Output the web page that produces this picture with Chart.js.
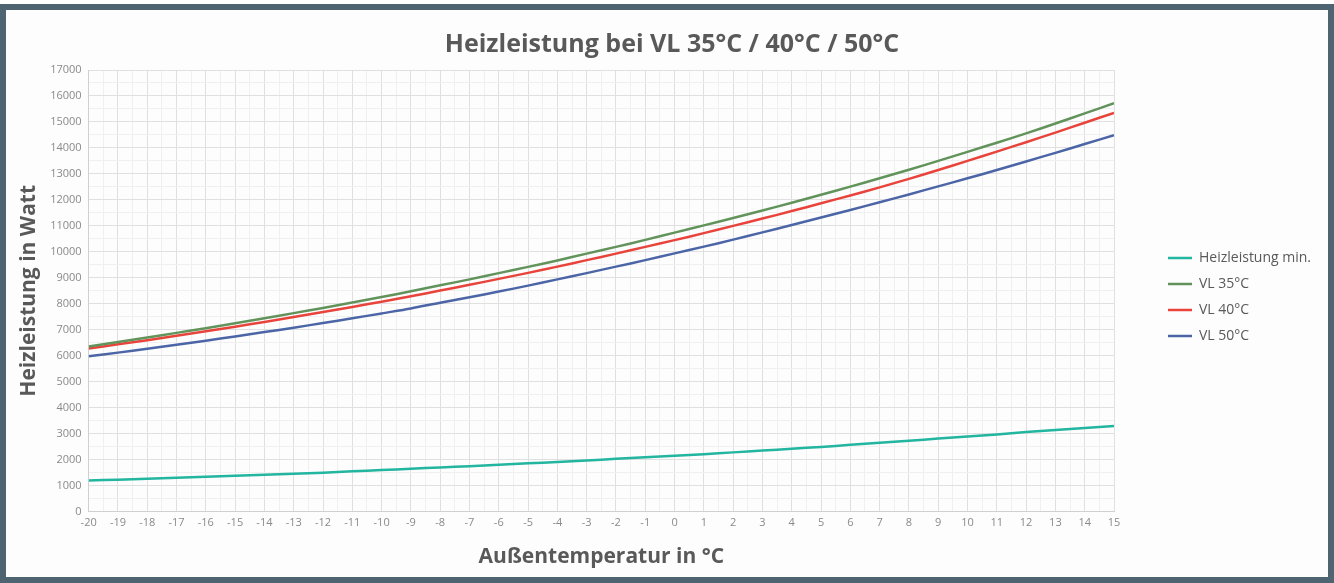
<!DOCTYPE html>
<html>
<head>
<meta charset="utf-8">
<script src="https://cdn.jsdelivr.net/npm/chart.js@4.4.1/dist/chart.umd.min.js"></script>
<style>
  html, body { margin: 0; padding: 0; background: #fff; }
  #frame {
    position: absolute; left: 0; top: 4px; width: 1334px; height: 579px;
    box-sizing: border-box; border: 6px solid #4e6471; background: #fdfdfd;
  }
  #wrap { position: absolute; left: 0; top: 0; width: 1322px; height: 567px; }
</style>
</head>
<body>
<div id="frame"><div id="wrap"><canvas id="chart-heiz"></canvas></div></div>
<script>
// Außentemperatur in °C
var temps = [-20,-19,-18,-17,-16,-15,-14,-13,-12,-11,-10,-9,-8,-7,-6,-5,-4,-3,-2,-1,0,1,2,3,4,5,6,7,8,9,10,11,12,13,14,15];

// Heizleistung in Watt
var heizMin = [1200,1230,1260,1300,1340,1380,1420,1460,1500,1550,1600,1650,1700,1750,1800,1860,1910,1970,2030,2090,2150,2210,2280,2350,2420,2490,2570,2650,2730,2810,2890,2970,3060,3140,3220,3300];
var vl35 = [6360,6530,6700,6880,7060,7250,7440,7640,7840,8050,8260,8480,8710,8940,9180,9420,9670,9930,10190,10460,10740,11020,11300,11590,11890,12200,12510,12830,13160,13500,13850,14200,14560,14940,15330,15720];
var vl40 = [6280,6440,6600,6770,6940,7120,7300,7490,7680,7880,8080,8290,8510,8730,8960,9190,9430,9680,9930,10190,10450,10720,11000,11280,11570,11870,12170,12480,12810,13150,13500,13860,14220,14590,14970,15350];
var vl50 = [5980,6120,6270,6420,6580,6740,6910,7080,7260,7440,7630,7820,8040,8250,8470,8700,8940,9180,9430,9680,9940,10200,10470,10750,11030,11320,11610,11910,12210,12520,12830,13150,13480,13810,14150,14490];

var seriesNames = ['Heizleistung min.', 'VL 35°C', 'VL 40°C', 'VL 50°C'];
var seriesColors = ['#22b59f', '#62935b', '#e8443c', '#4b65a6'];

function points(values) {
  return temps.map(function (t, i) { return { x: t, y: values[i] }; });
}

function makeSet(name, values, color) {
  return {
    label: name,
    data: points(values),
    borderColor: color,
    backgroundColor: color,
    borderWidth: 2.5,
    pointRadius: 0,
    pointStyle: 'line',
    tension: 0.3
  };
}

// legend sits a bit away from the plot, like in the Excel original
var legendBox = {
  id: 'legendBox',
  beforeLayout: function (chart) {
    var lg = chart.legend;
    if (lg && !lg._wide) {
      var fit = lg.fit;
      lg.fit = function () { fit.call(this); this.width = 214; };
      lg._wide = true;
    }
  },
  afterLayout: function (chart) {
    var lg = chart.legend;
    if (lg) {
      lg.left += 42;
      lg.top -= 3;
      lg.bottom -= 3;
    }
  }
};

var textGrey = '#595959';
var tickGrey = '#8a8a8a';

var ctx = document.getElementById('chart-heiz');
new Chart(ctx, {
  type: 'line',
  data: {
    datasets: [
      makeSet(seriesNames[0], heizMin, seriesColors[0]),
      makeSet(seriesNames[1], vl35, seriesColors[1]),
      makeSet(seriesNames[2], vl40, seriesColors[2]),
      makeSet(seriesNames[3], vl50, seriesColors[3])
    ]
  },
  plugins: [legendBox],
  options: {
    responsive: true,
    maintainAspectRatio: false,
    animation: false,
    layout: { padding: { left: 10, right: 0, top: 20, bottom: 7 } },
    plugins: {
      title: {
        display: true,
        text: 'Heizleistung bei VL 35°C / 40°C / 50°C',
        color: textGrey,
        font: { family: 'Open Sans', size: 25, weight: 'bold' },
        padding: { top: 0, bottom: 10 }
      },
      legend: {
        position: 'right',
        align: 'center',
        labels: {
          usePointStyle: true,
          pointStyleWidth: 24,
          color: textGrey,
          padding: 12,
          font: { family: 'Open Sans', size: 14 }
        }
      },
      tooltip: { enabled: false }
    },
    scales: {
      x: {
        type: 'linear',
        min: -20,
        max: 15,
        border: { color: '#d0d0d0' },
        ticks: {
          stepSize: 0.5,
          autoSkip: false,
          maxRotation: 0,
          padding: 5,
          color: tickGrey,
          font: { family: 'Open Sans', size: 11 },
          callback: function (v) { return Number.isInteger(v) ? String(v) : ''; }
        },
        grid: {
          color: function (c) { return Number.isInteger(c.tick.value) ? '#e0e0e0' : '#f0f0f0'; },
          drawTicks: false
        },
        title: {
          display: true,
          text: 'Außentemperatur in °C',
          color: textGrey,
          font: { family: 'Open Sans', size: 21, weight: 'bold' },
          padding: { top: 10, bottom: 0 }
        }
      },
      y: {
        min: 0,
        max: 17000,
        border: { color: '#d0d0d0' },
        ticks: {
          stepSize: 500,
          autoSkip: false,
          color: tickGrey,
          padding: 7,
          font: { family: 'Open Sans', size: 11 },
          callback: function (v) { return v % 1000 === 0 ? String(v) : ''; }
        },
        grid: {
          color: function (c) { return c.tick.value % 1000 === 0 ? '#e0e0e0' : '#f0f0f0'; },
          drawTicks: false
        },
        title: {
          display: true,
          text: 'Heizleistung in Watt',
          color: textGrey,
          font: { family: 'Open Sans', size: 21, weight: 'bold' },
          padding: { top: 0, bottom: 2 }
        }
      }
    }
  }
});
</script>
</body>
</html>
